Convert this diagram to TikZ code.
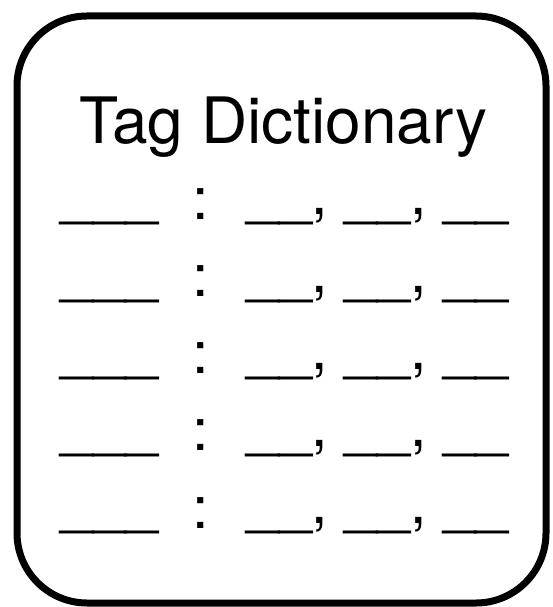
\documentclass[tikz,border=0pt]{standalone}
\usepackage{fontspec}
\setmainfont{TeX Gyre Heros}
\usetikzlibrary{positioning}
\tikzset{
  dictbox/.style={
    rectangle,
    rounded corners=70pt,
    draw,
    line width=7pt,
    minimum width=529pt,
    minimum height=587pt,
    inner sep=0pt
  },
  heading/.style={
    anchor=base,
    inner sep=0pt,
    font=\fontsize{64}{70}\selectfont
  },
  entry/.style={
    inner sep=0pt,
    font=\fontsize{59}{65}\selectfont
  }
}
\begin{document}
\begin{tikzpicture}[x=1pt, y=-1pt]
  \useasboundingbox (0,0) rectangle (552,607);
  \node[dictbox] (dict) at (281.5,309.5) {};
  \node[heading] (title) at (283.5,143) {Tag Dictionary};

  \foreach \r in {0,...,4} {
    \pgfmathsetmacro{\ly}{226.5+77.3*\r}
    \node[entry, anchor=base west] (key\r) at (60,\ly-11.8) {\_\_\_};
    \node[entry, anchor=base] (colon\r) at (200.5,\ly-7.5) {:};
    \node[entry, anchor=base west] (vals\r) at (246,\ly-11.8) {\_\_, \_\_, \_\_};
  }
\end{tikzpicture}
\end{document}
